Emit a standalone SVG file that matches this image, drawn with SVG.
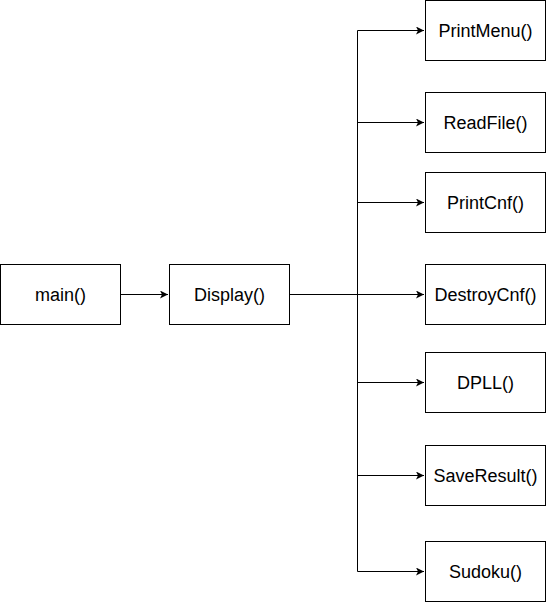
<svg xmlns="http://www.w3.org/2000/svg" width="546" height="603" viewBox="0 0 546 603">
<defs>
<marker id="arr" markerWidth="10" markerHeight="10" refX="8" refY="4" orient="auto" markerUnits="userSpaceOnUse">
<path d="M0,0 L8,4 L0,8 L2,4 Z" fill="#000"/>
</marker>
<style>
.box{fill:#fff;stroke:#000;stroke-width:1}
.lbl{font-family:"Liberation Sans",Arial,sans-serif;font-size:18px;fill:#000;text-anchor:middle;dominant-baseline:central}
.edge{fill:none;stroke:#000;stroke-width:1}
</style>
</defs>
<rect width="546" height="603" fill="#fff"/>
<g id="connectors">
<path class="edge" d="M120.5,294.5 H168" marker-end="url(#arr)"/>
<path class="edge" d="M289.5,294.5 H424" marker-end="url(#arr)"/>
<path class="edge" d="M357.5,30.5 V571.5"/>
<path class="edge" d="M357.5,30.5 H424" marker-end="url(#arr)"/>
<path class="edge" d="M357.5,122.5 H424" marker-end="url(#arr)"/>
<path class="edge" d="M357.5,202.5 H424" marker-end="url(#arr)"/>
<path class="edge" d="M357.5,382.5 H424" marker-end="url(#arr)"/>
<path class="edge" d="M357.5,475.5 H424" marker-end="url(#arr)"/>
<path class="edge" d="M357.5,571.5 H424" marker-end="url(#arr)"/>
</g>
<g id="main"><rect class="box" x="0.5" y="264.5" width="120" height="60"/><text class="lbl" x="60.5" y="294.5">main()</text></g>
<g id="display"><rect class="box" x="169.5" y="264.5" width="120" height="60"/><text class="lbl" x="229.5" y="294.5">Display()</text></g>
<g id="printmenu"><rect class="box" x="425.5" y="0.5" width="120" height="60"/><text class="lbl" x="485.5" y="30.5">PrintMenu()</text></g>
<g id="readfile"><rect class="box" x="425.5" y="92.5" width="120" height="60"/><text class="lbl" x="485.5" y="122.5">ReadFile()</text></g>
<g id="printcnf"><rect class="box" x="425.5" y="172.5" width="120" height="60"/><text class="lbl" x="485.5" y="202.5">PrintCnf()</text></g>
<g id="destroycnf"><rect class="box" x="425.5" y="264.5" width="120" height="60"/><text class="lbl" x="485.5" y="294.5">DestroyCnf()</text></g>
<g id="dpll"><rect class="box" x="425.5" y="352.5" width="120" height="60"/><text class="lbl" x="485.5" y="382.5">DPLL()</text></g>
<g id="saveresult"><rect class="box" x="425.5" y="445.5" width="120" height="60"/><text class="lbl" x="485.5" y="475.5">SaveResult()</text></g>
<g id="sudoku"><rect class="box" x="425.5" y="541.5" width="120" height="60"/><text class="lbl" x="485.5" y="571.5">Sudoku()</text></g>
</svg>
